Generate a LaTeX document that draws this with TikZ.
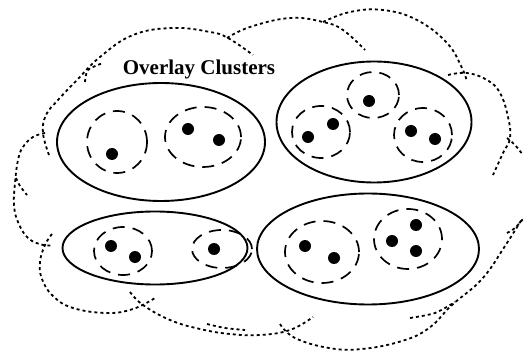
\documentclass[tikz,border=0pt]{standalone}
\usepackage{fontspec}
\setmainfont{Liberation Serif}
\usepackage{tikz}
\usetikzlibrary{shapes, positioning}

\begin{document}
\begin{tikzpicture}[x=1pt, y=-1pt]
	\tikzstyle{cloudline}=[draw=black, line width=1.8pt, dash pattern=on 3pt off 3pt]
	\tikzstyle{cluster}=[draw=black, ellipse, line width=1.9pt, inner sep=0pt]
	\tikzstyle{group}=[draw=black, ellipse, line width=1.7pt, inner sep=0pt, dash pattern=on 12pt off 8pt]
	\tikzstyle{dot}=[fill=black, circle, minimum size=12pt, inner sep=0pt]
	
	\useasboundingbox (0,0) rectangle (524,352);
	
	%% cloud of overlapping arcs
	\draw [cloudline] plot[smooth, tension=0.7] coordinates {(49,155) (43,133) (46,115) (58,100) (77,80) (100,57) (133,35) (173,28) (210,32) (228,38) (253,55)};
	\draw [cloudline] plot[smooth] coordinates {(85,82) (88,70) (103,63)};
	\draw [cloudline] plot[smooth, tension=0.7] coordinates {(45,133) (33,137) (23,147) (18,160) (15,183) (14,205) (18,222) (28,238) (43,245) (53,245)};
	\draw [cloudline] plot[smooth] coordinates {(16,178) (20,186) (27,195)};
	\draw [cloudline] plot[smooth, tension=0.7] coordinates {(52,234) (45,245) (40,262) (42,279) (53,296) (73,308) (107,313) (133,309) (155,298)};
	\draw [cloudline] plot[smooth, tension=0.7] coordinates {(130,292) (143,305) (170,320) (200,329) (230,334) (260,335) (290,330) (313,317)};
	\draw [cloudline] plot[smooth] coordinates {(207,324) (225,328) (245,330)};
	\draw [cloudline] plot[smooth, tension=0.7] coordinates {(280,324) (295,338) (329,348) (362,349) (402,341) (429,328) (452,305) (482,279) (505,246) (522,219)};
	\draw [cloudline] plot[smooth] coordinates {(410,318) (435,313) (455,302)};
	\draw [cloudline] plot[smooth] coordinates {(507,233) (515,228) (523,219)};
	\draw [cloudline] plot[smooth] coordinates {(507,138) (515,145) (523,155)};
	\draw [cloudline] plot[smooth, tension=0.7] coordinates {(448,75) (467,73) (487,80) (500,93) (508,117) (510,138) (503,153) (493,175)};
	\draw [cloudline] plot[smooth, tension=0.7] coordinates {(323,22) (350,12) (383,10) (417,20) (447,43) (462,68) (467,82)};
	\draw [cloudline] plot[smooth, tension=0.7] coordinates {(227,38) (250,27) (290,18) (323,22) (343,30) (365,50)};
	
	\node [anchor=base, font=\bfseries\fontsize{21}{24}\selectfont] (title) at (199,75) {Overlay Clusters};
	
	%% overlay clusters
	\node [cluster, minimum width=208pt, minimum height=118pt] (CA) at (161,142) {};
	\node [cluster, minimum width=195pt, minimum height=121pt] (CB) at (374,122) {};
	\node [cluster, minimum width=185pt, minimum height=73pt] (CC) at (155,248) {};
	\node [cluster, minimum width=222pt, minimum height=111pt] (CD) at (368,249) {};
	
	%% groups in CA
	\node [group, minimum width=60pt, minimum height=62pt] (GA1) at (117,142) {};
	\node [dot] (a1) at (112,154) {};
	\node [group, minimum width=76pt, minimum height=60pt] (GA2) at (203,137) {};
	\node [dot] (a2) at (188,129) {};
	\node [dot] (a3) at (219,140) {};
	
	%% groups in CB
	\node [group, minimum width=52pt, minimum height=46pt] (GB1) at (373,95) {};
	\node [dot] (b1) at (369,101) {};
	\node [group, minimum width=58pt, minimum height=52pt] (GB2) at (321,132) {};
	\node [dot] (b2) at (308,137) {};
	\node [dot] (b3) at (333,124) {};
	\node [group, minimum width=58pt, minimum height=54pt] (GB3) at (423,135) {};
	\node [dot] (b4) at (411,131) {};
	\node [dot] (b5) at (435,139) {};
	
	%% groups in CC
	\node [group, minimum width=58pt, minimum height=48pt] (GC1) at (123,251) {};
	\node [dot] (c1) at (111,246) {};
	\node [dot] (c2) at (135,257) {};
	\node [group, minimum width=60pt, minimum height=38pt] (GC2) at (222,249) {};
	\node [dot] (c3) at (214,249) {};
	
	%% groups in CD
	\node [group, minimum width=74pt, minimum height=62pt] (GD1) at (322,252) {};
	\node [dot] (d1) at (305,246) {};
	\node [dot] (d2) at (334,258) {};
	\node [group, minimum width=68pt, minimum height=60pt] (GD2) at (408,239) {};
	\node [dot] (d3) at (392,241) {};
	\node [dot] (d4) at (416,225) {};
	\node [dot] (d5) at (416,251) {};
\end{tikzpicture}
\end{document}
